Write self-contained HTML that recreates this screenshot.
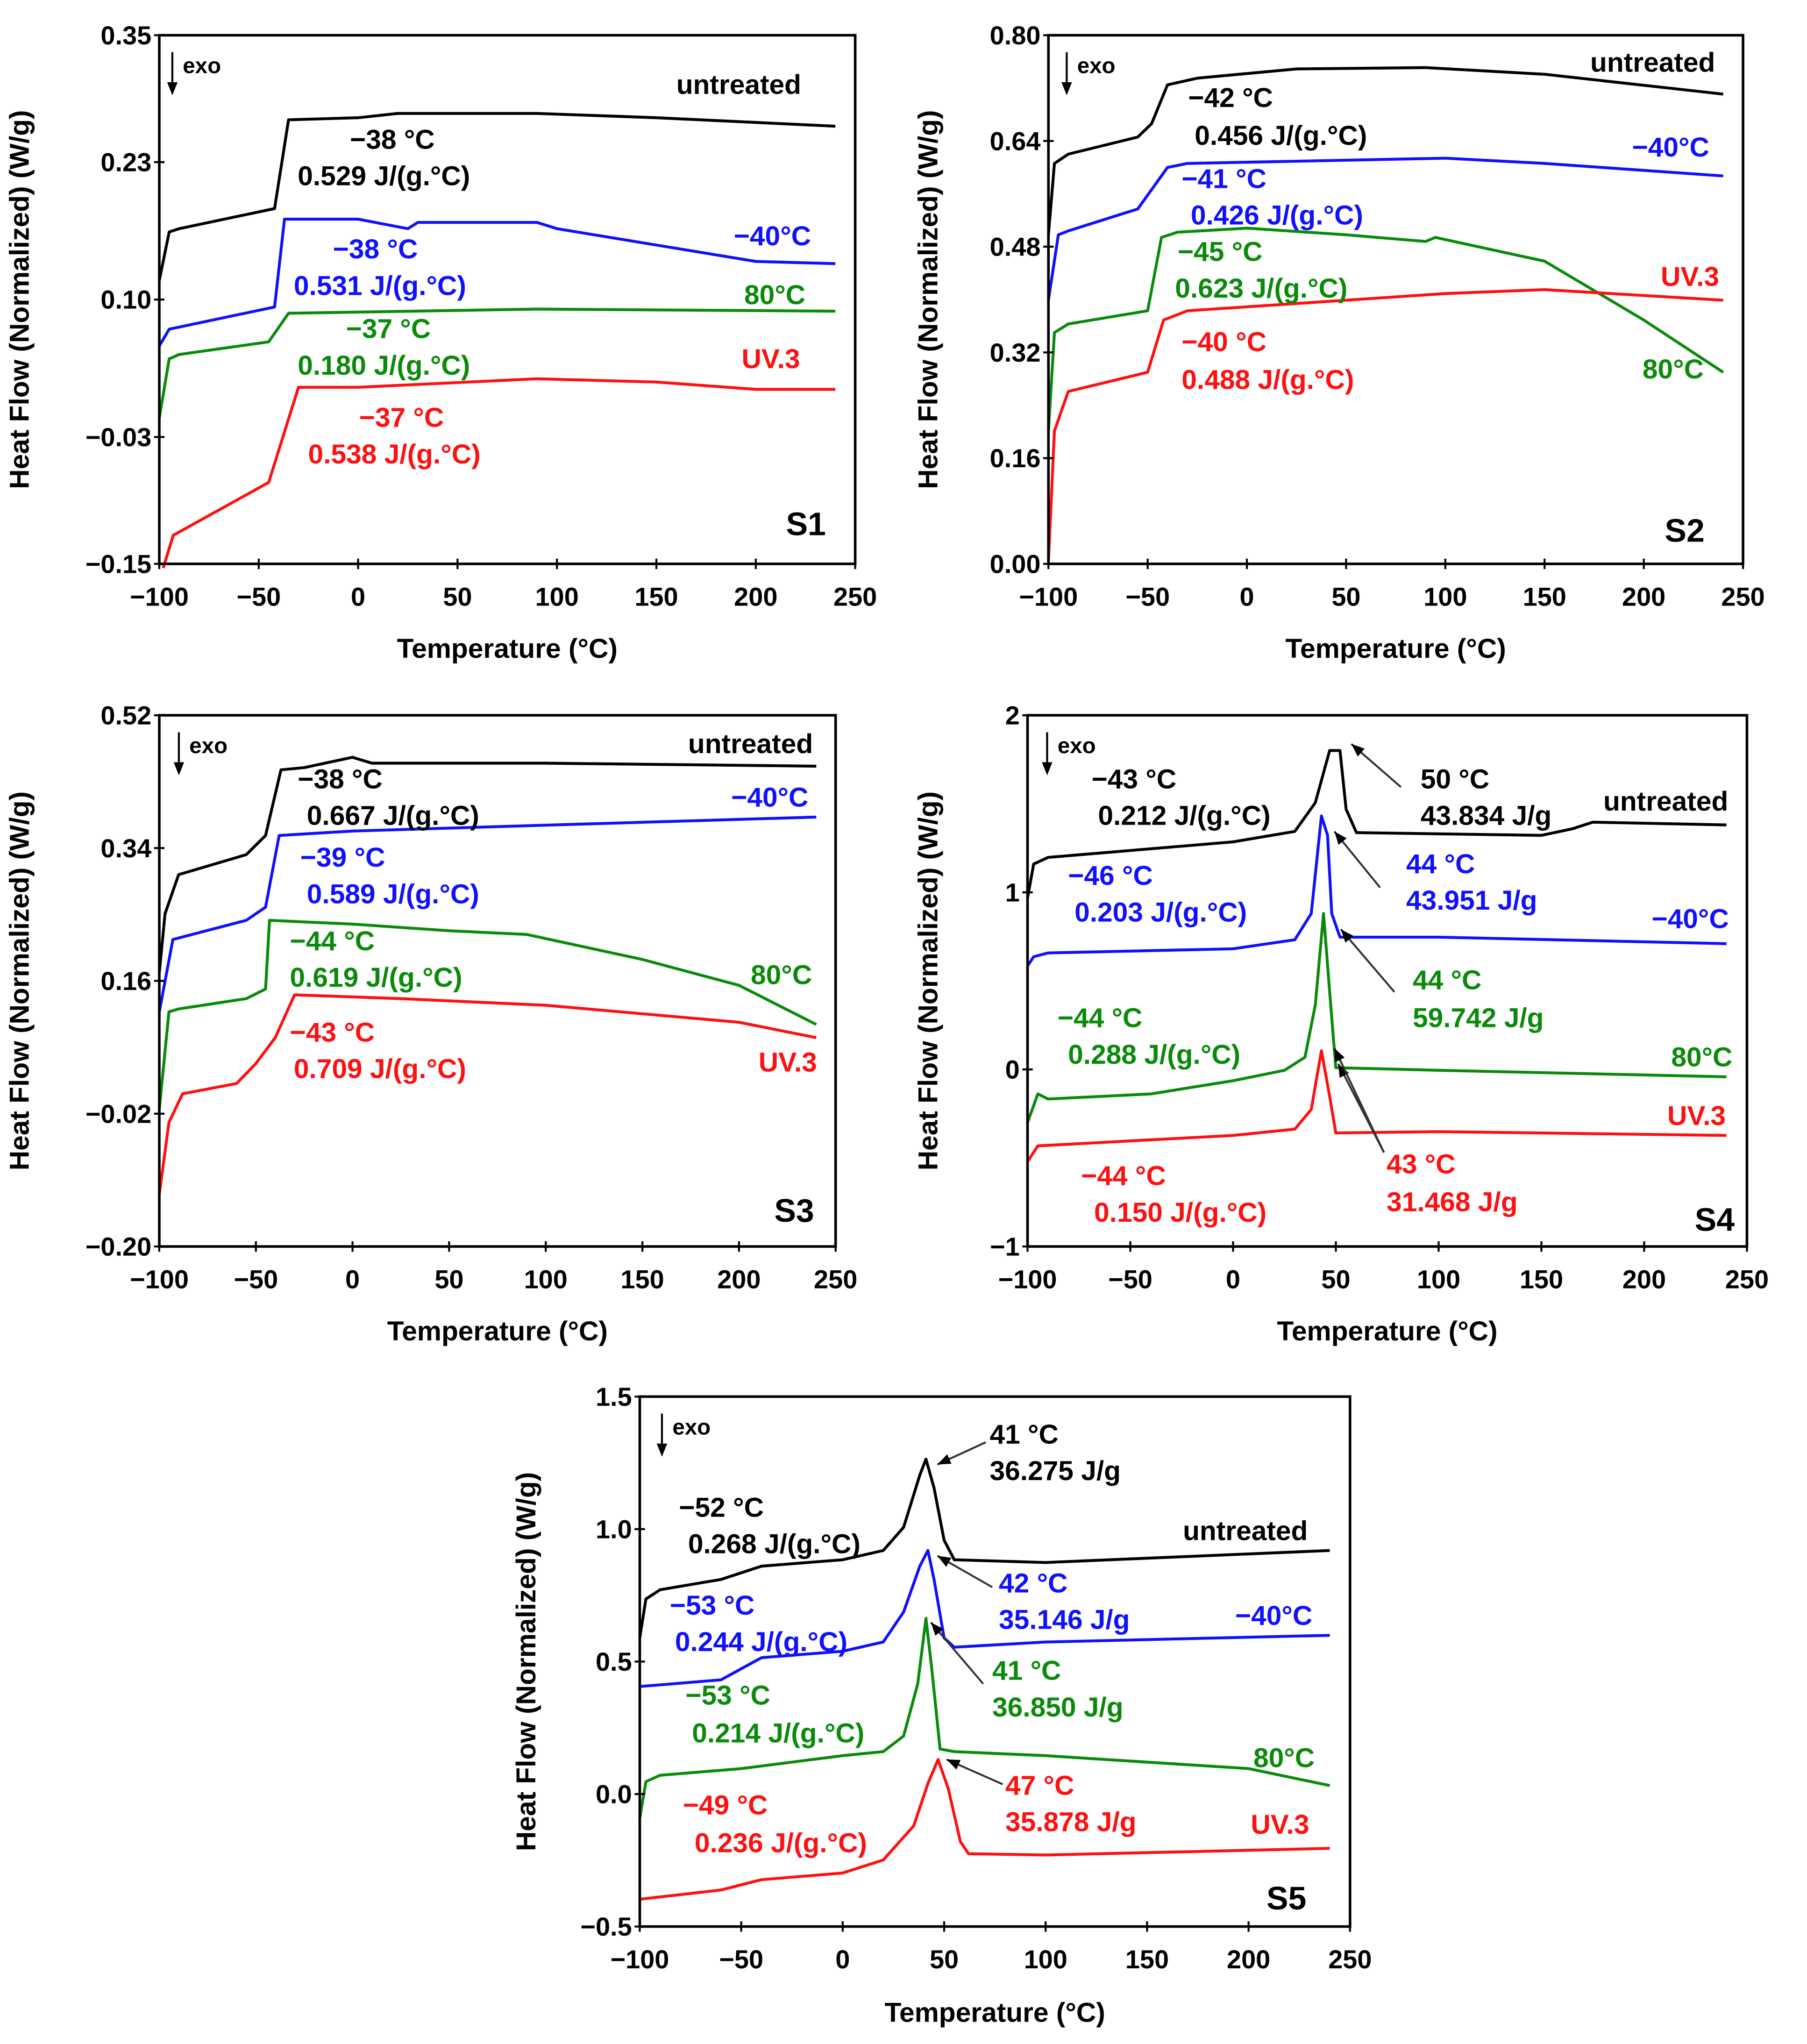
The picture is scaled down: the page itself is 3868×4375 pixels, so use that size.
<!DOCTYPE html>
<html><head><meta charset="utf-8">
<style>
html,body{margin:0;padding:0;background:#fff;}
svg{display:block;}
text{font-family:"Liberation Sans",Arial,sans-serif;font-weight:bold;}
</style></head>
<body>
<svg id="fig" width="3868" height="4375" viewBox="0 0 1384 1566" preserveAspectRatio="none" xmlns="http://www.w3.org/2000/svg"></svg>
<script>
// ---------- data ----------
const xTicks = [-100,-50,0,50,100,150,200,250];
const s1YTicks = [0.35,0.23,0.10,-0.03,-0.15];
const s2YTicks = [0.80,0.64,0.48,0.32,0.16,0.00];
const s3YTicks = [0.52,0.34,0.16,-0.02,-0.20];
const s4YTicks = [2,1,0,-1];
const s5YTicks = [1.5,1.0,0.5,0.0,-0.5];

const s1UntreatedT=[-100,-95,-90,-42,-35,0,20,90,150,240];
const s1UntreatedV=[0.118,0.164,0.167,0.186,0.270,0.272,0.276,0.276,0.272,0.264];
const s1Minus40T=[-100,-95,-90,-42,-37,0,25,30,90,100,200,240];
const s1Minus40V=[0.056,0.072,0.074,0.093,0.176,0.176,0.167,0.173,0.173,0.167,0.136,0.134];
const s1Plus80T=[-100,-95,-90,-45,-35,90,240];
const s1Plus80V=[-0.012,0.044,0.048,0.060,0.087,0.091,0.089];
const s1Uv3T=[-98,-93,-45,-30,0,90,150,200,240];
const s1Uv3V=[-0.154,-0.123,-0.073,0.017,0.017,0.025,0.022,0.015,0.015];

const s2UntreatedT=[-100,-97,-90,-55,-48,-40,-25,25,90,150,240];
const s2UntreatedV=[0.498,0.606,0.62,0.646,0.666,0.725,0.735,0.749,0.751,0.741,0.711];
const s2Minus40T=[-100,-95,-90,-55,-40,-30,100,150,240];
const s2Minus40V=[0.399,0.498,0.504,0.537,0.60,0.606,0.614,0.606,0.587];
const s2Plus80T=[-100,-97,-90,-50,-43,-35,0,50,90,95,150,200,240];
const s2Plus80V=[0.201,0.35,0.363,0.383,0.494,0.502,0.508,0.498,0.488,0.494,0.458,0.369,0.290];
const s2Uv3T=[-100,-97,-90,-50,-42,-30,50,100,150,240];
const s2Uv3V=[0.004,0.201,0.261,0.290,0.369,0.383,0.399,0.409,0.415,0.399];

const s3UntreatedT=[-100,-97,-90,-55,-45,-37,-25,0,10,100,240];
const s3UntreatedV=[0.171,0.251,0.304,0.331,0.357,0.446,0.449,0.463,0.455,0.455,0.451];
const s3Minus40T=[-100,-93,-55,-45,-38,0,100,240];
const s3Minus40V=[0.118,0.216,0.242,0.260,0.357,0.363,0.371,0.382];
const s3Plus80T=[-100,-95,-90,-55,-45,-43,0,50,90,150,200,240];
const s3Plus80V=[-0.014,0.118,0.122,0.136,0.149,0.242,0.237,0.228,0.223,0.189,0.154,0.101];
const s3Uv3T=[-100,-95,-88,-60,-50,-40,-30,25,100,200,240];
const s3Uv3V=[-0.129,-0.032,0.007,0.021,0.048,0.083,0.141,0.136,0.127,0.104,0.083];

const s4UntreatedT=[-100,-97,-90,0,30,40,47,52,55,60,150,165,175,240];
const s4UntreatedV=[0.968,1.160,1.197,1.285,1.344,1.506,1.801,1.801,1.469,1.337,1.322,1.359,1.396,1.381];
const s4Minus40T=[-100,-97,-90,0,30,38,43,46,48,52,100,240];
const s4Minus40V=[0.585,0.636,0.658,0.681,0.732,0.880,1.432,1.322,0.880,0.747,0.747,0.710];
const s4Plus80T=[-100,-95,-90,-40,0,25,35,40,44,47,50,100,240];
const s4Plus80V=[-0.300,-0.138,-0.167,-0.138,-0.064,-0.005,0.069,0.364,0.880,0.437,0.010,-0.005,-0.042];
const s4Uv3T=[-100,-95,0,30,38,43,47,50,100,240];
const s4Uv3V=[-0.521,-0.432,-0.373,-0.337,-0.226,0.106,-0.152,-0.359,-0.351,-0.373];

const s5UntreatedT=[-100,-97,-90,-60,-40,0,20,30,38,41,45,50,55,100,240];
const s5UntreatedV=[0.589,0.736,0.771,0.810,0.860,0.884,0.919,1.007,1.204,1.264,1.155,0.958,0.884,0.874,0.919];
const s5Minus40T=[-100,-60,-40,0,20,30,38,42,45,50,55,100,240];
const s5Minus40V=[0.406,0.431,0.515,0.539,0.574,0.687,0.860,0.919,0.810,0.589,0.554,0.574,0.599];
const s5Plus80T=[-100,-97,-90,-50,0,20,30,37,41,44,48,55,100,200,240];
const s5Plus80V=[-0.091,0.047,0.071,0.096,0.145,0.160,0.219,0.416,0.663,0.466,0.170,0.160,0.145,0.096,0.032];
const s5Uv3T=[-100,-60,-40,0,20,35,42,47,52,58,62,100,240];
const s5Uv3V=[-0.397,-0.362,-0.323,-0.298,-0.249,-0.120,0.040,0.130,0.020,-0.180,-0.225,-0.230,-0.205];

// ---------- drawing ----------
const NS="http://www.w3.org/2000/svg";
const svg=document.getElementById('fig');
const COL={k:'#000000',b:'#1010ff',g:'#0a8a0a',r:'#ff1010'};
function mk(tag,attrs,parent){const e=document.createElementNS(NS,tag);for(const k in attrs)e.setAttribute(k,attrs[k]);(parent||svg).appendChild(e);return e;}
function fmt(v,d){return v<0?'\u2212'+Math.abs(v).toFixed(d):v.toFixed(d);}

const panels=[
 {id:'s1',L:122,R:655,T:27,B:432,yt:s1YTicks,dec:2,xl:457,xt:497,yx:22,name:'S1',nx:602,ny:410,exo:132,
  series:[[s1UntreatedT,s1UntreatedV,'k','untreated'],[s1Minus40T,s1Minus40V,'b','minus40'],[s1Plus80T,s1Plus80V,'g','plus80'],[s1Uv3T,s1Uv3V,'r','uv3']],
  labels:[['untreated',518,72,'k'],['\u221238 °C',268,114,'k'],['0.529 J/(g.°C)',228,142,'k'],['\u221240°C',562,188,'b'],['\u221238 °C',255,198,'b'],['0.531 J/(g.°C)',225,226,'b'],['80°C',570,233,'g'],['\u221237 °C',265,259,'g'],['0.180 J/(g.°C)',228,287,'g'],['UV.3',568,282,'r'],['\u221237 °C',275,327,'r'],['0.538 J/(g.°C)',236,355,'r']]},
 {id:'s2',L:803,R:1335,T:27,B:432,yt:s2YTicks,dec:2,xl:457,xt:497,yx:718,name:'S2',nx:1275,ny:415,exo:817,
  series:[[s2UntreatedT,s2UntreatedV,'k','untreated'],[s2Minus40T,s2Minus40V,'b','minus40'],[s2Plus80T,s2Plus80V,'g','plus80'],[s2Uv3T,s2Uv3V,'r','uv3']],
  labels:[['untreated',1218,55,'k'],['\u221242 °C',910,82,'k'],['0.456 J/(g.°C)',915,111,'k'],['\u221240°C',1250,120,'b'],['\u221241 °C',905,144,'b'],['0.426 J/(g.°C)',912,172,'b'],['\u221245 °C',902,200,'g'],['0.623 J/(g.°C)',900,228,'g'],['UV.3',1272,219,'r'],['80°C',1258,290,'g'],['\u221240 °C',905,269,'r'],['0.488 J/(g.°C)',905,298,'r']]},
 {id:'s3',L:122,R:640,T:548,B:955,yt:s3YTicks,dec:2,xl:980,xt:1020,yx:22,name:'S3',nx:593,ny:936,exo:137,
  series:[[s3UntreatedT,s3UntreatedV,'k','untreated'],[s3Minus40T,s3Minus40V,'b','minus40'],[s3Plus80T,s3Plus80V,'g','plus80'],[s3Uv3T,s3Uv3V,'r','uv3']],
  labels:[['untreated',527,577,'k'],['\u221238 °C',228,604,'k'],['0.667 J/(g.°C)',235,632,'k'],['\u221240°C',560,618,'b'],['\u221239 °C',230,664,'b'],['0.589 J/(g.°C)',235,692,'b'],['\u221244 °C',222,728,'g'],['0.619 J/(g.°C)',222,756,'g'],['80°C',575,754,'g'],['\u221243 °C',222,798,'r'],['0.709 J/(g.°C)',225,826,'r'],['UV.3',581,821,'r']]},
 {id:'s4',L:787,R:1338,T:548,B:955,yt:s4YTicks,dec:0,xl:980,xt:1020,yx:718,name:'S4',nx:1298,ny:943,exo:802,
  series:[[s4UntreatedT,s4UntreatedV,'k','untreated'],[s4Minus40T,s4Minus40V,'b','minus40'],[s4Plus80T,s4Plus80V,'g','plus80'],[s4Uv3T,s4Uv3V,'r','uv3']],
  labels:[['\u221243 °C',836,604,'k'],['0.212 J/(g.°C)',841,632,'k'],['50 °C',1088,604,'k'],['43.834 J/g',1088,632,'k'],['untreated',1228,621,'k'],['\u221246 °C',818,678,'b'],['0.203 J/(g.°C)',823,706,'b'],['44 °C',1077,669,'b'],['43.951 J/g',1077,697,'b'],['\u221240°C',1265,711,'b'],['44 °C',1082,758,'g'],['59.742 J/g',1082,787,'g'],['\u221244 °C',810,787,'g'],['0.288 J/(g.°C)',818,815,'g'],['80°C',1280,817,'g'],['UV.3',1277,862,'r'],['43 °C',1062,899,'r'],['31.468 J/g',1062,928,'r'],['\u221244 °C',828,908,'r'],['0.150 J/(g.°C)',838,936,'r']],
  arrows:[[1073,603,1035,570],[1057,680,1022,637],[1068,760,1027,712],[1060,883,1025,815],[1060,883,1022,803]]},
 {id:'s5',L:490,R:1034,T:1070,B:1476,yt:s5YTicks,dec:1,xl:1501,xt:1542,yx:410,name:'S5',nx:970,ny:1463,exo:507,
  series:[[s5UntreatedT,s5UntreatedV,'k','untreated'],[s5Minus40T,s5Minus40V,'b','minus40'],[s5Plus80T,s5Plus80V,'g','plus80'],[s5Uv3T,s5Uv3V,'r','uv3']],
  labels:[['41 °C',758,1106,'k'],['36.275 J/g',758,1134,'k'],['\u221252 °C',520,1162,'k'],['0.268 J/(g.°C)',527,1190,'k'],['untreated',906,1180,'k'],['42 °C',765,1220,'b'],['35.146 J/g',765,1248,'b'],['\u221253 °C',513,1237,'b'],['0.244 J/(g.°C)',517,1265,'b'],['\u221240°C',946,1245,'b'],['41 °C',760,1287,'g'],['36.850 J/g',760,1315,'g'],['\u221253 °C',525,1306,'g'],['0.214 J/(g.°C)',530,1335,'g'],['80°C',960,1354,'g'],['47 °C',770,1375,'r'],['35.878 J/g',770,1403,'r'],['\u221249 °C',523,1390,'r'],['0.236 J/(g.°C)',532,1419,'r'],['UV.3',958,1405,'r']],
  arrows:[[755,1105,718,1122],[760,1216,718,1192],[753,1290,713,1243],[768,1367,725,1348]]}
];

panels.forEach(p=>{
  const g=mk('g',{});
  
  
  const ymax=p.yt[0], ymin=p.yt[p.yt.length-1];
  const xs=t=>p.L+(t+100)/350*(p.R-p.L);
  const ys=v=>p.T+(ymax-v)/(ymax-ymin)*(p.B-p.T);
  p.series.forEach(s=>{
    const pts=s[0].map((t,i)=>xs(t).toFixed(1)+','+ys(s[1][i]).toFixed(1)).join(' ');
    const pl=mk('polyline',{points:pts,fill:'none',stroke:COL[s[2]],'stroke-width':2.2,'stroke-linejoin':'round'},g);
    
    
  });
  const fr=mk('rect',{x:p.L,y:p.T,width:p.R-p.L,height:p.B-p.T,fill:'none',stroke:'#000','stroke-width':2},g);
  
  
  p.yt.forEach(v=>{
    const y=ys(v);
    mk('line',{x1:p.L-4,x2:p.L+4,y1:y,y2:y,stroke:'#000','stroke-width':1.5},g);
    const t=mk('text',{x:p.L-6,y:y+7,'text-anchor':'end','font-size':20},g);
    t.textContent=fmt(v,p.dec);
    
    
  });
  xTicks.forEach(v=>{
    const x=xs(v);
    mk('line',{x1:x,x2:x,y1:p.B-4,y2:p.B+4,stroke:'#000','stroke-width':1.5},g);
    const t=mk('text',{x:x,y:p.xl+7,'text-anchor':'middle','font-size':20},g);
    t.textContent=fmt(v,0);
    
    
  });
  const xt=mk('text',{x:(p.L+p.R)/2,y:p.xt+7,'text-anchor':'middle','font-size':21},g);
  xt.textContent='Temperature (°C)';
  
  
  const cy=(p.T+p.B)/2;
  const yt=mk('text',{x:p.yx,y:cy,'text-anchor':'middle','font-size':21,transform:'rotate(-90 '+p.yx+' '+cy+')'},g);
  yt.textContent='Heat Flow (Normalized)  (W/g)';
  
  
  mk('line',{x1:p.exo,x2:p.exo,y1:p.T+13,y2:p.T+38,stroke:'#000','stroke-width':1.5},g);
  mk('polygon',{points:(p.exo-4)+','+(p.T+36)+' '+(p.exo+4)+','+(p.T+36)+' '+p.exo+','+(p.T+46),fill:'#000'},g);
  const ex=mk('text',{x:p.exo+8,y:p.T+29,'font-size':17,'font-weight':'normal'},g);
  ex.textContent='exo';
  
  
  p.labels.forEach(l=>{
    const t=mk('text',{x:l[1],y:l[2],fill:COL[l[3]],'font-size':21},g);
    t.textContent=l[0];
    
    
  });
  (p.arrows||[]).forEach(a=>{
    mk('line',{x1:a[0],y1:a[1],x2:a[2],y2:a[3],stroke:'#333','stroke-width':1.5},g);
    const ang=Math.atan2(a[3]-a[1],a[2]-a[0]);
    const h=10,w=4;
    const bx=a[2]-h*Math.cos(ang),by=a[3]-h*Math.sin(ang);
    mk('polygon',{points:a[2]+','+a[3]+' '+(bx-w*Math.sin(ang))+','+(by+w*Math.cos(ang))+' '+(bx+w*Math.sin(ang))+','+(by-w*Math.cos(ang)),fill:'#000'},g);
  });
  const nm=mk('text',{x:p.nx,y:p.ny,'font-size':25},g);
  nm.textContent=p.name;
  
  
});
</script>
</body></html>
